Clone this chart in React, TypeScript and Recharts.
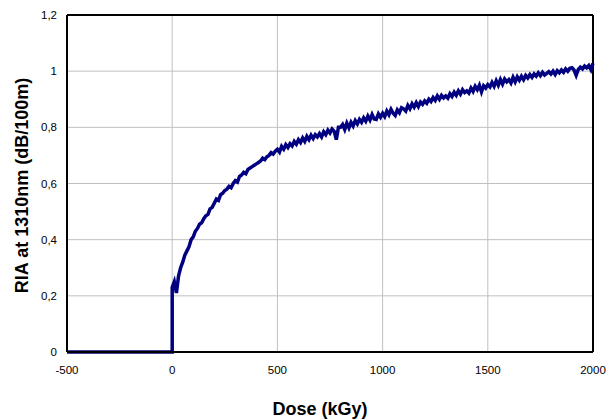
import { LineChart, Line, XAxis, YAxis, CartesianGrid, ReferenceLine } from 'recharts'

// before irradiation starts the loss is zero
const preDose = [-500, 0]
const preRia = [0, 0]

// RIA readings every 10 kGy from 0 to 2000 kGy (one row per 100 kGy)
const DOSE_STEP = 10
const riaValues = [
  0.23, 0.25, 0.21, 0.27, 0.3, 0.32, 0.345, 0.36, 0.375, 0.4,
  0.41, 0.43, 0.44, 0.455, 0.46, 0.475, 0.485, 0.49, 0.51, 0.515,
  0.53, 0.545, 0.54, 0.56, 0.565, 0.575, 0.58, 0.59, 0.585, 0.6,
  0.61, 0.605, 0.625, 0.63, 0.64, 0.635, 0.65, 0.655, 0.66, 0.665,
  0.67, 0.675, 0.68, 0.69, 0.685, 0.695, 0.7, 0.71, 0.705, 0.715,
  0.722, 0.712, 0.732, 0.722, 0.738, 0.728, 0.742, 0.734, 0.75, 0.74,
  0.756, 0.746, 0.762, 0.75, 0.768, 0.756, 0.772, 0.76, 0.774, 0.766,
  0.778, 0.766, 0.784, 0.774, 0.79, 0.78, 0.794, 0.786, 0.756, 0.8,
  0.8, 0.81, 0.792, 0.815, 0.798, 0.818, 0.805, 0.824, 0.812, 0.828,
  0.818, 0.834, 0.822, 0.84, 0.826, 0.846, 0.83, 0.828, 0.848, 0.836,
  0.85, 0.838, 0.858, 0.845, 0.864, 0.85, 0.842, 0.862, 0.852, 0.87,
  0.866, 0.858, 0.878, 0.866, 0.884, 0.872, 0.888, 0.874, 0.89, 0.882,
  0.894, 0.886, 0.9, 0.892, 0.906, 0.896, 0.912, 0.9, 0.914, 0.905,
  0.912, 0.904, 0.92, 0.91, 0.925, 0.914, 0.93, 0.918, 0.934, 0.924,
  0.93, 0.922, 0.94, 0.928, 0.946, 0.934, 0.95, 0.926, 0.948, 0.94,
  0.952, 0.944, 0.96, 0.946, 0.966, 0.95, 0.97, 0.954, 0.972, 0.962,
  0.97, 0.958, 0.978, 0.962, 0.98, 0.968, 0.982, 0.97, 0.985, 0.976,
  0.988, 0.978, 0.99, 0.982, 0.994, 0.984, 0.996, 0.986, 0.992, 0.998,
  0.99, 1.0, 0.988, 1.002, 0.994, 1.004, 0.996, 1.008, 1.0, 1.01,
  1.012, 1.004, 0.985, 1.006, 1.014, 1.008, 1.018, 1.012, 1.02, 1.005,
  1.028,
]

const xTicks = [-500, 0, 500, 1000, 1500, 2000]
const yTicks = [0, 0.2, 0.4, 0.6, 0.8, 1, 1.2]

const data = [
  ...preDose.map((d, i) => ({ dose: d, ria: preRia[i] })),
  ...riaValues.map((v, i) => ({ dose: i * DOSE_STEP, ria: v })),
]

const fmtComma = (v: number) => String(v).replace('.', ',')

export default function App() {
  return (
    <div style={{ position: 'absolute', left: 0, top: 0, fontFamily: '"Liberation Sans", Arial, sans-serif' }}>
      <LineChart width={612} height={420} data={data} margin={{ top: 15, right: 19, left: 0, bottom: 0 }}>
        <CartesianGrid stroke="#c0c0c0" strokeWidth={1} />
        <XAxis
          dataKey="dose"
          type="number"
          domain={[-500, 2000]}
          ticks={xTicks}
          height={68}
          tickLine={false}
          tickMargin={8}
          axisLine={{ stroke: '#000', strokeWidth: 2 }}
          tick={{ fontSize: 11.5, fill: '#000' }}
          label={{ value: 'Dose (kGy)', position: 'insideBottom', offset: 5, dx: -10, style: { fontSize: 18, fontWeight: 'bold', fill: '#000' } }}
        />
        <YAxis
          type="number"
          domain={[0, 1.2]}
          ticks={yTicks}
          width={67}
          tickLine={false}
          tickMargin={4}
          tickFormatter={fmtComma}
          axisLine={{ stroke: '#000', strokeWidth: 2 }}
          tick={{ fontSize: 11.5, fill: '#000' }}
          label={{ value: 'RIA at 1310nm (dB/100m)', angle: -90, position: 'insideLeft', offset: 22, dy: 2, style: { fontSize: 18, fontWeight: 'bold', fill: '#000', textAnchor: 'middle' } }}
        />
        <ReferenceLine y={1.2} stroke="#000" strokeWidth={2} />
        <ReferenceLine x={2000} stroke="#000" strokeWidth={2} />
        <Line
          dataKey="ria"
          type="linear"
          stroke="#000080"
          strokeWidth={3.5}
          dot={false}
          isAnimationActive={false}
        />
      </LineChart>
    </div>
  )
}
